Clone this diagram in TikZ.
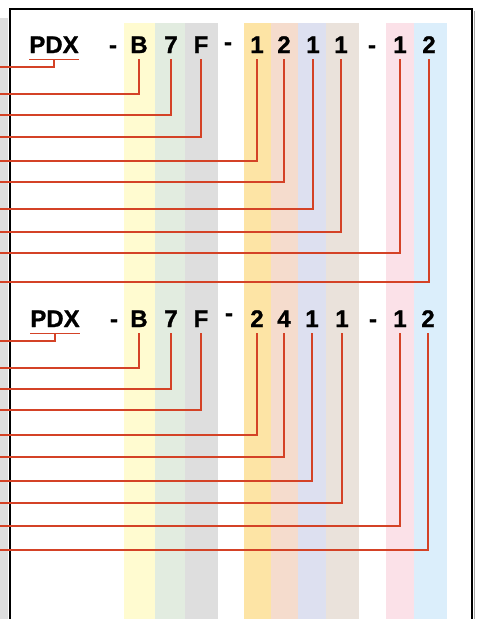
\documentclass[tikz,border=0pt]{standalone}
\usepackage{fontspec}
\setmainfont{Liberation Sans}
\newfontfamily\codefont{Liberation Sans}[BoldFeatures={FakeBold=1.2}]
\usetikzlibrary{positioning}
\definecolor{WireRed}{RGB}{212,66,38}
\definecolor{BandYellow}{RGB}{255,251,208}
\definecolor{BandGreen}{RGB}{226,236,224}
\definecolor{BandGray}{RGB}{222,222,222}
\definecolor{BandOrange}{RGB}{253,228,165}
\definecolor{BandSalmon}{RGB}{245,220,205}
\definecolor{BandLilac}{RGB}{221,224,240}
\definecolor{BandBeige}{RGB}{234,226,219}
\definecolor{BandPink}{RGB}{251,225,232}
\definecolor{BandBlue}{RGB}{219,238,251}
\tikzset{
  ch/.style={font=\codefont\bfseries\fontsize{24}{24}\selectfont,inner sep=0pt,
    text height=18pt,text depth=6pt,anchor=base},
  wire/.style={draw=WireRed,line width=1.2pt},
  frame/.style={draw=black,line width=2pt},
}

\begin{document}
\begin{tikzpicture}[x=1pt,y=-1pt]
\useasboundingbox (0,0) rectangle (484,619);
% colour bands
\fill[BandYellow] (124,23) rectangle (155,619);
\fill[BandGreen] (155,23) rectangle (185,619);
\fill[BandGray] (185,23) rectangle (218,619);
\fill[BandOrange] (244,23) rectangle (271,619);
\fill[BandSalmon] (271,23) rectangle (298,619);
\fill[BandLilac] (298,23) rectangle (326,619);
\fill[BandBeige] (326,23) rectangle (359,619);
\fill[BandPink] (386,23) rectangle (414,619);
\fill[BandBlue] (414,23) rectangle (447,619);
% frame
\fill[black!13] (0,18) rectangle (8,619);
\draw[black!35,line width=1pt] (474,11) -- (474,619);
\draw[frame] (10,619) -- (10,9) -- (472,9) -- (472,619);
% upper code
\node[ch] (u1) at (54,53) {PDX};
\node[ch] (uh1) at (113,53) {-};
\node[ch] (u2) at (139,53) {B};
\node[ch] (u3) at (171,53) {7};
\node[ch] (u4) at (201,53) {F};
\node[ch] (uh2) at (228,50) {-};
\node[ch] (u5) at (257,53) {1};
\node[ch] (u6) at (284,53) {2};
\node[ch] (u7) at (313,53) {1};
\node[ch] (u8) at (341,53) {1};
\node[ch] (uh3) at (372,53) {-};
\node[ch] (u9) at (400,53) {1};
\node[ch] (u10) at (429,53) {2};
\coordinate (ul1) at (0,67);
\coordinate (ul2) at (0,94);
\coordinate (ul3) at (0,115);
\coordinate (ul4) at (0,137);
\coordinate (ul5) at (0,161);
\coordinate (ul6) at (0,182);
\coordinate (ul7) at (0,209);
\coordinate (ul8) at (0,232);
\coordinate (ul9) at (0,253);
\coordinate (ul10) at (0,282);
\draw[wire] (u1.south west) -- (u1.south east);
\draw[wire] (u1.south) |- (ul1);
\draw[wire] (u2.south) |- (ul2);
\draw[wire] (u3.south) |- (ul3);
\draw[wire] (u4.south) |- (ul4);
\draw[wire] (u5.south) |- (ul5);
\draw[wire] (u6.south) |- (ul6);
\draw[wire] (u7.south) |- (ul7);
\draw[wire] (u8.south) |- (ul8);
\draw[wire] (u9.south) |- (ul9);
\draw[wire] (u10.south) |- (ul10);
% lower code
\node[ch] (w1) at (55,327) {PDX};
\node[ch] (wh1) at (114,327) {-};
\node[ch] (w2) at (139,327) {B};
\node[ch] (w3) at (171,327) {7};
\node[ch] (w4) at (201,327) {F};
\node[ch] (wh2) at (229,321) {-};
\node[ch] (w5) at (257,327) {2};
\node[ch] (w6) at (284,327) {4};
\node[ch] (w7) at (312,327) {1};
\node[ch] (w8) at (342,327) {1};
\node[ch] (wh3) at (373,327) {-};
\node[ch] (w9) at (400,327) {1};
\node[ch] (w10) at (428,327) {2};
\coordinate (wl1) at (0,341);
\coordinate (wl2) at (0,368);
\coordinate (wl3) at (0,389);
\coordinate (wl4) at (0,410);
\coordinate (wl5) at (0,435);
\coordinate (wl6) at (0,457);
\coordinate (wl7) at (0,481);
\coordinate (wl8) at (0,503);
\coordinate (wl9) at (0,526);
\coordinate (wl10) at (0,550);
\draw[wire] (w1.south west) -- (w1.south east);
\draw[wire] (w1.south) |- (wl1);
\draw[wire] (w2.south) |- (wl2);
\draw[wire] (w3.south) |- (wl3);
\draw[wire] (w4.south) |- (wl4);
\draw[wire] (w5.south) |- (wl5);
\draw[wire] (w6.south) |- (wl6);
\draw[wire] (w7.south) |- (wl7);
\draw[wire] (w8.south) |- (wl8);
\draw[wire] (w9.south) |- (wl9);
\draw[wire] (w10.south) |- (wl10);
\end{tikzpicture}
\end{document}
